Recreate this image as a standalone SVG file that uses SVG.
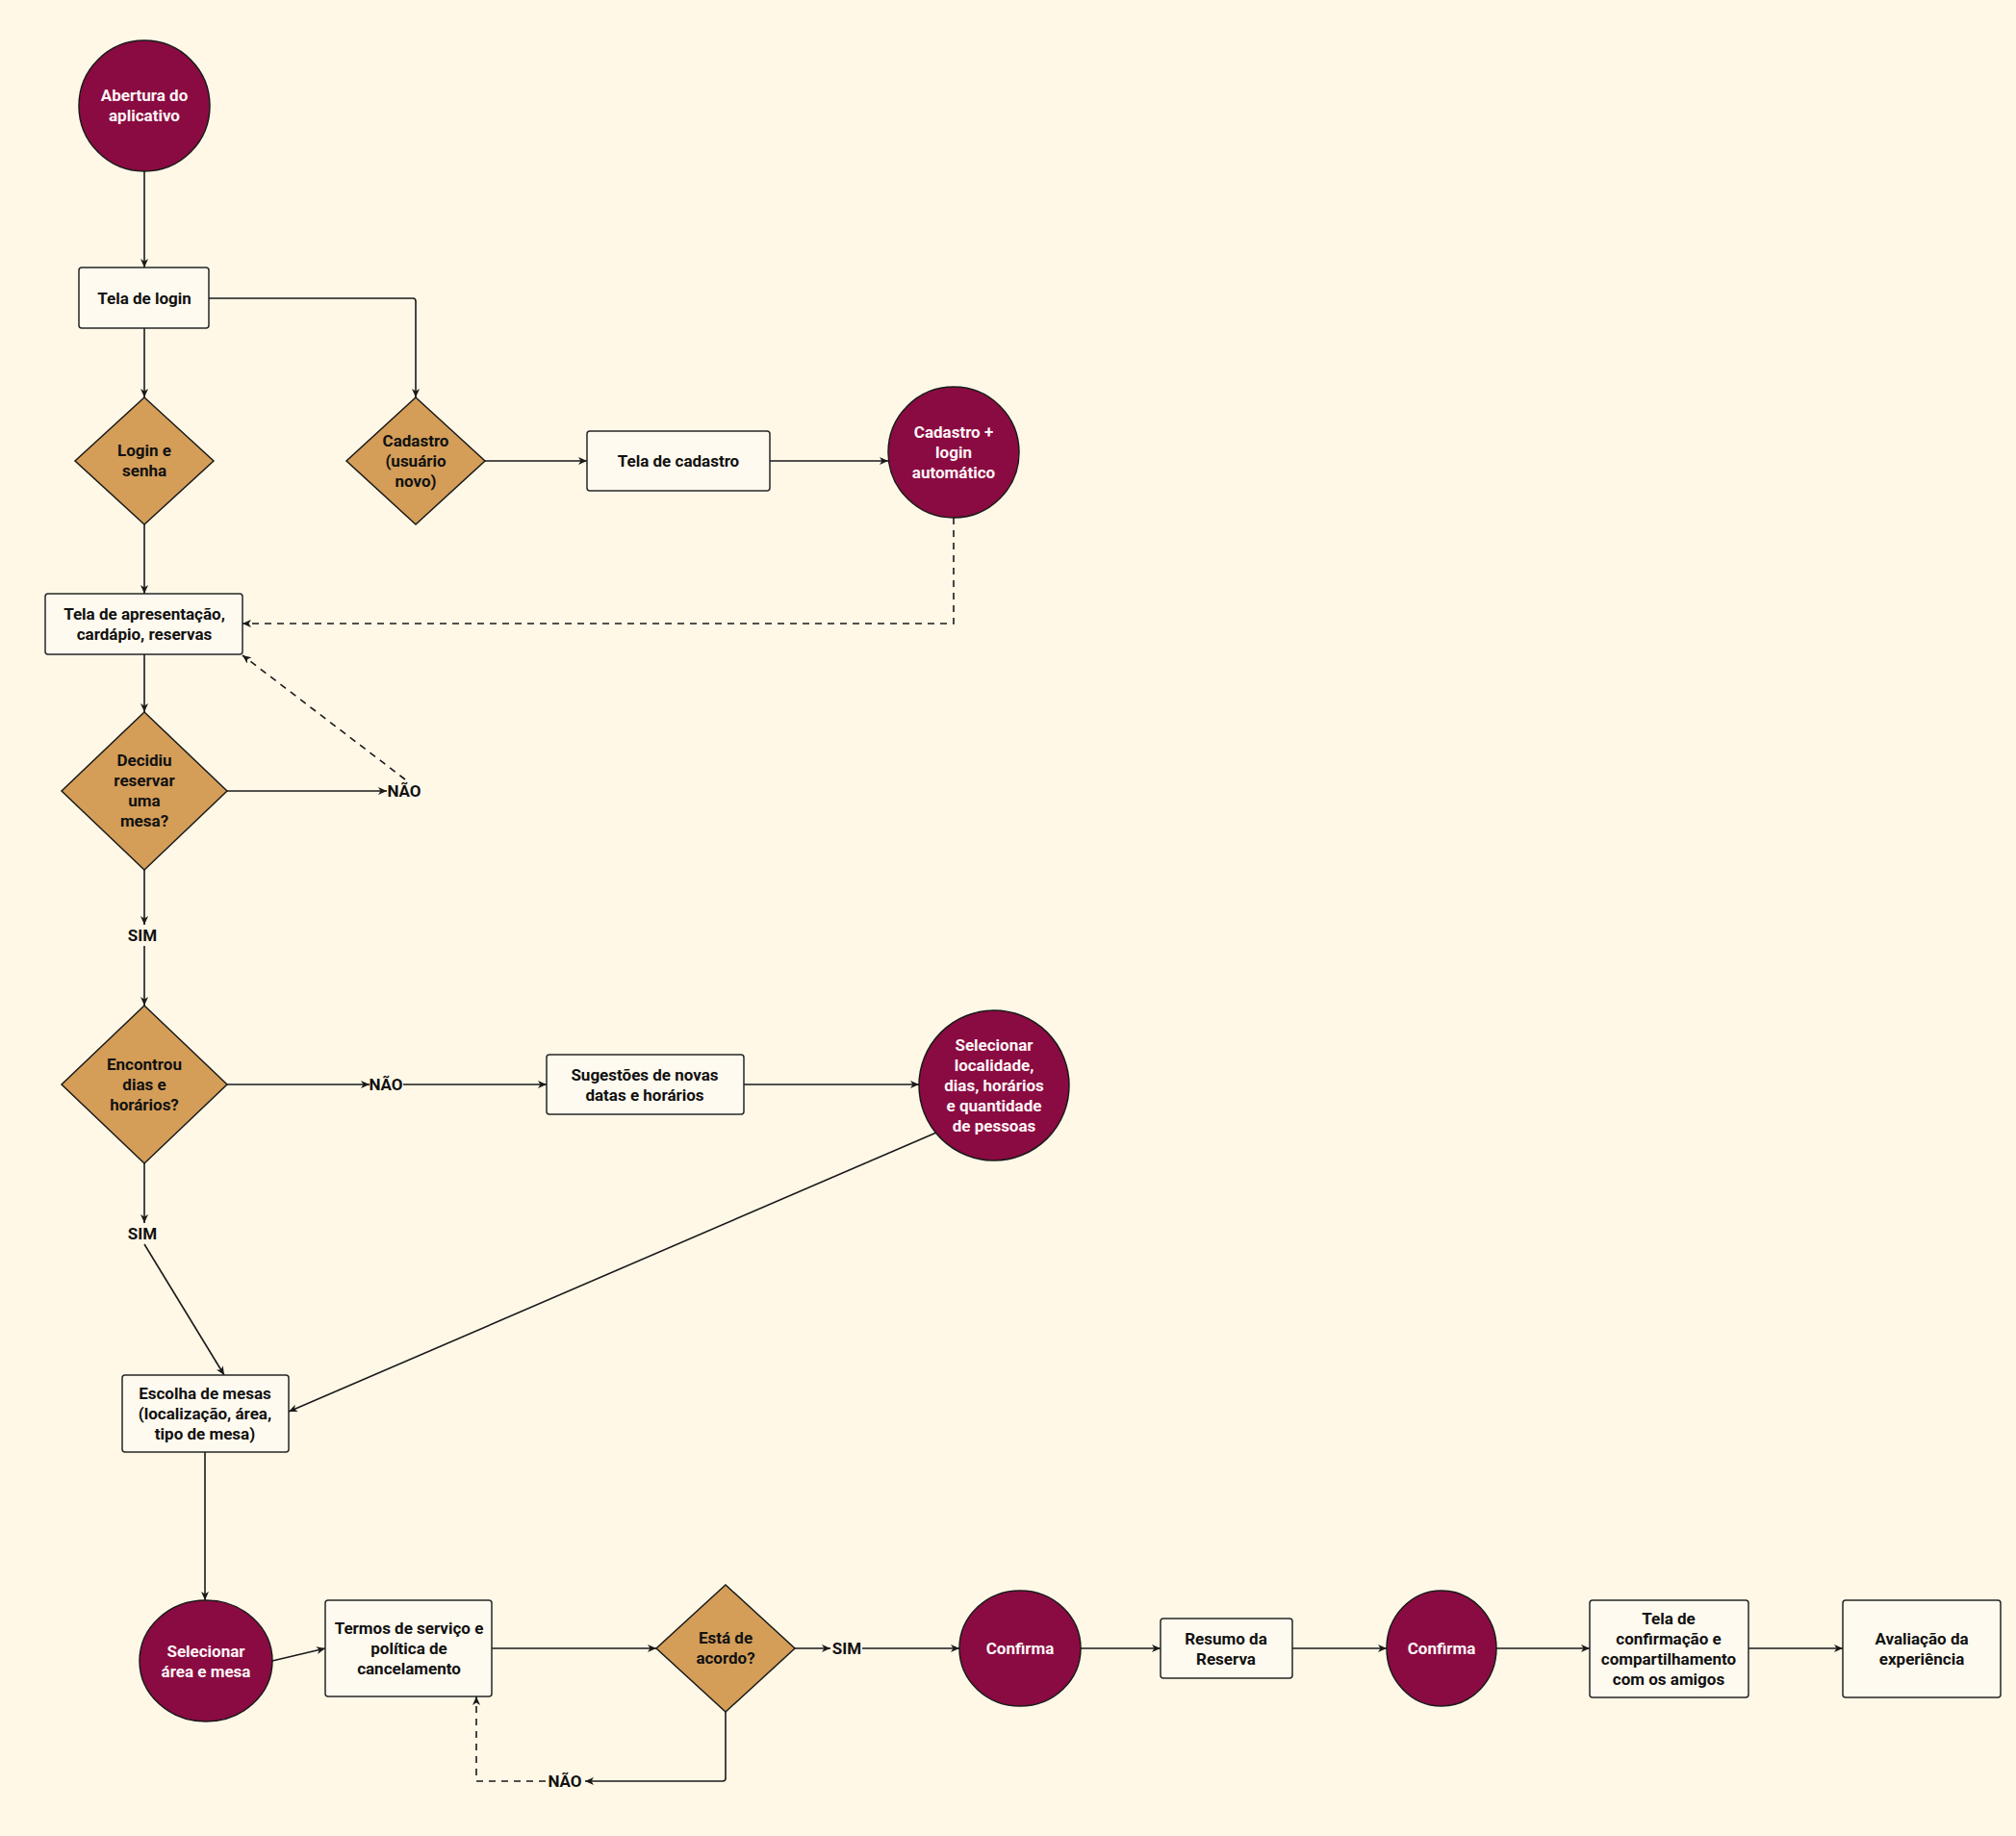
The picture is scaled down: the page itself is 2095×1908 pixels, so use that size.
<svg xmlns="http://www.w3.org/2000/svg" width="2095" height="1908" viewBox="0 0 2095 1908">
  <style>
    .bg { fill: #fff8e7; }
    .term { fill: #8a0b41; stroke: #1a1a1a; stroke-width: 1.5; }
    .dec { fill: #d49e58; stroke: #1a1a1a; stroke-width: 1.5; }
    .box { fill: #fffaef; stroke: #262626; stroke-width: 1.5; }
    .t { font-family: Roboto, "Liberation Sans", sans-serif; font-weight: 700; font-size: 17px; text-anchor: middle; fill: #111; }
    .tw { fill: #fff5f7; }
    .lbl { font-family: Roboto, "Liberation Sans", sans-serif; font-weight: 700; font-size: 17px; text-anchor: middle; fill: #111; }
    .edge { fill: none; stroke: #1a1a1a; stroke-width: 1.6; marker-end: url(#arrow); }
    .dash { stroke-dasharray: 7 6; }
  </style>
  <defs>
    <marker id="arrow" markerUnits="userSpaceOnUse" markerWidth="10" markerHeight="10" refX="9" refY="4" orient="auto">
      <path d="M0,0 L9,4 L0,8 L2.5,4 z" fill="#1a1a1a"/>
    </marker>
  </defs>

  <rect class="bg" x="0" y="0" width="2095" height="1908"/>

  <!-- connectors -->
  <g id="connectors">
    <path class="edge" d="M150,178 L150,278"/>
    <path class="edge" d="M217,310 L429,310 Q432,310 432,313 L432,413"/>
    <path class="edge" d="M150,341 L150,413"/>
    <path class="edge" d="M504,479 L610,479"/>
    <path class="edge" d="M800,479 L923,479"/>
    <path class="edge dash" d="M991,538 L991,648 L252,648"/>
    <path class="edge" d="M150,545 L150,617"/>
    <path class="edge" d="M150,680 L150,740"/>
    <path class="edge" d="M236,822 L402,822"/>
    <path class="edge dash" d="M421,810 L252,681"/>
    <path class="edge" d="M150,904 L150,961"/>
    <path class="edge" d="M150,983 L150,1045"/>
    <path class="edge" d="M236,1127 L384,1127"/>
    <path class="edge" d="M419,1127 L568,1127"/>
    <path class="edge" d="M773,1127 L955,1127"/>
    <path class="edge" d="M973,1177 L300,1467"/>
    <path class="edge" d="M150,1208 L150,1271"/>
    <path class="edge" d="M150,1293 L233,1429"/>
    <path class="edge" d="M213,1509 L213,1663"/>
    <path class="edge" d="M283,1726 L338,1713"/>
    <path class="edge" d="M511,1713 L682,1713"/>
    <path class="edge" d="M826,1713 L863,1713"/>
    <path class="edge" d="M896,1713 L997,1713"/>
    <path class="edge" d="M754,1779 L754,1848 Q754,1851 751,1851 L608,1851"/>
    <path class="edge dash" d="M567,1851 L495,1851 L495,1763"/>
    <path class="edge" d="M1123,1713 L1206,1713"/>
    <path class="edge" d="M1343,1713 L1441,1713"/>
    <path class="edge" d="M1555,1713 L1652,1713"/>
    <path class="edge" d="M1817,1713 L1915,1713"/>

    <text class="lbl" x="420" y="828">NÃO</text>
    <text class="lbl" x="148" y="978">SIM</text>
    <text class="lbl" x="401" y="1133">NÃO</text>
    <text class="lbl" x="148" y="1288">SIM</text>
    <text class="lbl" x="880" y="1719">SIM</text>
    <text class="lbl" x="587" y="1857">NÃO</text>
  </g>

  <!-- nodes -->
  <g id="abertura">
    <circle class="term" cx="150" cy="110" r="68"/>
    <text class="t tw" x="150" y="105">Abertura do<tspan x="150" dy="21">aplicativo</tspan></text>
  </g>
  <g id="tela-login">
    <rect class="box" x="82" y="278" width="135" height="63" rx="3"/>
    <text class="t" x="150" y="316">Tela de login</text>
  </g>
  <g id="login-senha">
    <polygon class="dec" points="150,413 222,479 150,545 78,479"/>
    <text class="t" x="150" y="474">Login e<tspan x="150" dy="21">senha</tspan></text>
  </g>
  <g id="cadastro-decisao">
    <polygon class="dec" points="432,413 504,479 432,545 360,479"/>
    <text class="t" x="432" y="464">Cadastro<tspan x="432" dy="21">(usuário</tspan><tspan x="432" dy="21">novo)</tspan></text>
  </g>
  <g id="tela-cadastro">
    <rect class="box" x="610" y="448" width="190" height="62" rx="3"/>
    <text class="t" x="705" y="485">Tela de cadastro</text>
  </g>
  <g id="cadastro-login">
    <circle class="term" cx="991" cy="470" r="68"/>
    <text class="t tw" x="991" y="455">Cadastro +<tspan x="991" dy="21">login</tspan><tspan x="991" dy="21">automático</tspan></text>
  </g>
  <g id="tela-apresentacao">
    <rect class="box" x="47" y="617" width="205" height="63" rx="3"/>
    <text class="t" x="150" y="644">Tela de apresentação,<tspan x="150" dy="21">cardápio, reservas</tspan></text>
  </g>
  <g id="decidiu">
    <polygon class="dec" points="150,740 236,822 150,904 64,822"/>
    <text class="t" x="150" y="796">Decidiu<tspan x="150" dy="21">reservar</tspan><tspan x="150" dy="21">uma</tspan><tspan x="150" dy="21">mesa?</tspan></text>
  </g>
  <g id="encontrou">
    <polygon class="dec" points="150,1045 236,1127 150,1209 64,1127"/>
    <text class="t" x="150" y="1112">Encontrou<tspan x="150" dy="21">dias e</tspan><tspan x="150" dy="21">horários?</tspan></text>
  </g>
  <g id="sugestoes">
    <rect class="box" x="568" y="1096" width="205" height="62" rx="3"/>
    <text class="t" x="670" y="1123">Sugestões de novas<tspan x="670" dy="21">datas e horários</tspan></text>
  </g>
  <g id="selecionar-localidade">
    <circle class="term" cx="1033" cy="1128" r="78"/>
    <text class="t tw" x="1033" y="1092">Selecionar<tspan x="1033" dy="21">localidade,</tspan><tspan x="1033" dy="21">dias, horários</tspan><tspan x="1033" dy="21">e quantidade</tspan><tspan x="1033" dy="21">de pessoas</tspan></text>
  </g>
  <g id="escolha-mesas">
    <rect class="box" x="127" y="1429" width="173" height="80" rx="3"/>
    <text class="t" x="213" y="1454">Escolha de mesas<tspan x="213" dy="21">(localização, área,</tspan><tspan x="213" dy="21">tipo de mesa)</tspan></text>
  </g>
  <g id="selecionar-area">
    <ellipse class="term" cx="214" cy="1726" rx="69" ry="63"/>
    <text class="t tw" x="214" y="1722">Selecionar<tspan x="214" dy="21">área e mesa</tspan></text>
  </g>
  <g id="termos">
    <rect class="box" x="338" y="1663" width="173" height="100" rx="3"/>
    <text class="t" x="425" y="1698">Termos de serviço e<tspan x="425" dy="21">política de</tspan><tspan x="425" dy="21">cancelamento</tspan></text>
  </g>
  <g id="de-acordo">
    <polygon class="dec" points="754,1647 826,1713 754,1779 682,1713"/>
    <text class="t" x="754" y="1708">Está de<tspan x="754" dy="21">acordo?</tspan></text>
  </g>
  <g id="confirma-1">
    <ellipse class="term" cx="1060" cy="1713" rx="63" ry="60"/>
    <text class="t tw" x="1060" y="1719">Confirma</text>
  </g>
  <g id="resumo">
    <rect class="box" x="1206" y="1682" width="137" height="62" rx="3"/>
    <text class="t" x="1274" y="1709">Resumo da<tspan x="1274" dy="21">Reserva</tspan></text>
  </g>
  <g id="confirma-2">
    <ellipse class="term" cx="1498" cy="1713" rx="57" ry="60"/>
    <text class="t tw" x="1498" y="1719">Confirma</text>
  </g>
  <g id="tela-confirmacao">
    <rect class="box" x="1652" y="1663" width="165" height="101" rx="3"/>
    <text class="t" x="1734" y="1688">Tela de<tspan x="1734" dy="21">confirmação e</tspan><tspan x="1734" dy="21">compartilhamento</tspan><tspan x="1734" dy="21">com os amigos</tspan></text>
  </g>
  <g id="avaliacao">
    <rect class="box" x="1915" y="1663" width="164" height="101" rx="3"/>
    <text class="t" x="1997" y="1709">Avaliação da<tspan x="1997" dy="21">experiência</tspan></text>
  </g>
</svg>
